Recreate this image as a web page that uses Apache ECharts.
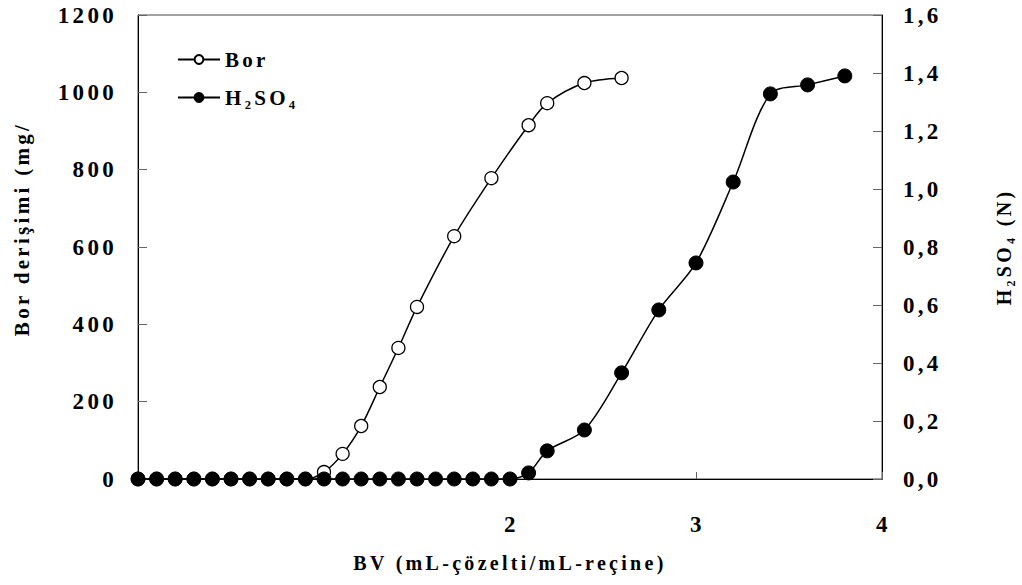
<!DOCTYPE html>
<html><head><meta charset="utf-8">
<script src="https://cdn.jsdelivr.net/npm/echarts@6/dist/echarts.min.js"></script>
<style>html,body{margin:0;padding:0;background:#fff}#c{width:1022px;height:585px}#c text{letter-spacing:3.3px}</style>
</head><body><div id="c"></div>
<script>
const borX = [0,0.1,0.2,0.3,0.4,0.5,0.6,0.7,0.8,0.9,1.0,1.1,1.2,1.3,1.4,1.5,1.7,1.9,2.1,2.2,2.4,2.6];
const borY = [0,0,0,0,0,0,0,0,0,0,18,65,137,238,339,445,628,778,915,972,1024,1037];
const acidX = [0,0.1,0.2,0.3,0.4,0.5,0.6,0.7,0.8,0.9,1.0,1.1,1.2,1.3,1.4,1.5,1.6,1.7,1.8,1.9,2.0,2.1,2.2,2.4,2.6,2.8,3.0,3.2,3.4,3.6,3.8];
const acidY = [0,0,0,0,0,0,0,0,0,0,0,0,0,0,0,0,0,0,0,0,0,0.021,0.097,0.169,0.366,0.583,0.745,1.024,1.328,1.359,1.390];
const xTickLabels = {2:'2',3:'3',4:'4'};
const leftName = 'Bor derişimi (mg/';
const rightName = 'H₂SO₄ (N)';
const xName = 'BV (mL-çözelti/mL-reçine)';
const seriesNames = ['Bor','H₂SO₄'];

const FF = 'Liberation Serif';
const txt = (s)=>({fontFamily:FF,fontWeight:'bold',fontSize:s,color:'#000'});
const chart = echarts.init(document.getElementById('c'),null,{renderer:'svg'});
chart.setOption({
  animation:false,
  grid:{left:138,right:137,top:15,bottom:106,show:true,borderColor:'#444',borderWidth:1},
  legend:{orient:'vertical',left:172,top:44,itemGap:17,itemWidth:42,itemHeight:11,
    textStyle:txt(21),data:seriesNames},
  xAxis:{type:'value',min:0,max:4,interval:1,
    name:xName,nameLocation:'middle',nameGap:74,nameTextStyle:txt(20),
    axisLine:{lineStyle:{color:'#000'}},
    axisTick:{inside:true,length:7,lineStyle:{color:'#666'}},
    axisLabel:{margin:34,...txt(23),padding:[0,0,0,3],formatter:v=>xTickLabels[v]||''},
    splitLine:{show:false}},
  yAxis:[
    {type:'value',min:0,max:1200,interval:200,
     name:leftName,nameLocation:'middle',nameGap:106,nameRotate:90,
     nameTextStyle:{...txt(21),padding:[0,0,0,36]},
     axisLine:{show:true,lineStyle:{color:'#000'}},
     axisTick:{show:true,inside:true,length:9,lineStyle:{color:'#666'}},
     axisLabel:{margin:21,...txt(23),formatter:v=>String(v)},splitLine:{show:false}},
    {type:'value',min:0,max:1.6,interval:0.2,position:'right',
     name:rightName,nameLocation:'middle',nameGap:112,nameRotate:90,nameTextStyle:txt(20),
     axisLine:{show:true,lineStyle:{color:'#000'}},
     axisTick:{show:true,inside:true,length:9,lineStyle:{color:'#666'}},
     axisLabel:{margin:21,...txt(23),formatter:v=>v.toFixed(1).replace('.',',')},
     splitLine:{show:false}}
  ],
  series:[
    {name:seriesNames[0],type:'line',yAxisIndex:0,smooth:0.3,
     data:borX.map((x,i)=>[x,borY[i]]),
     symbol:'circle',symbolSize:13,
     lineStyle:{color:'#000',width:1.5},
     itemStyle:{color:'#fff',borderColor:'#000',borderWidth:1.3}},
    {name:seriesNames[1],type:'line',yAxisIndex:1,smooth:0.3,
     data:acidX.map((x,i)=>[x,acidY[i]]),
     symbol:'circle',symbolSize:14,
     lineStyle:{color:'#000',width:1.5},
     itemStyle:{color:'#000',borderColor:'#000',borderWidth:1}}
  ]
});
</script></body></html>
